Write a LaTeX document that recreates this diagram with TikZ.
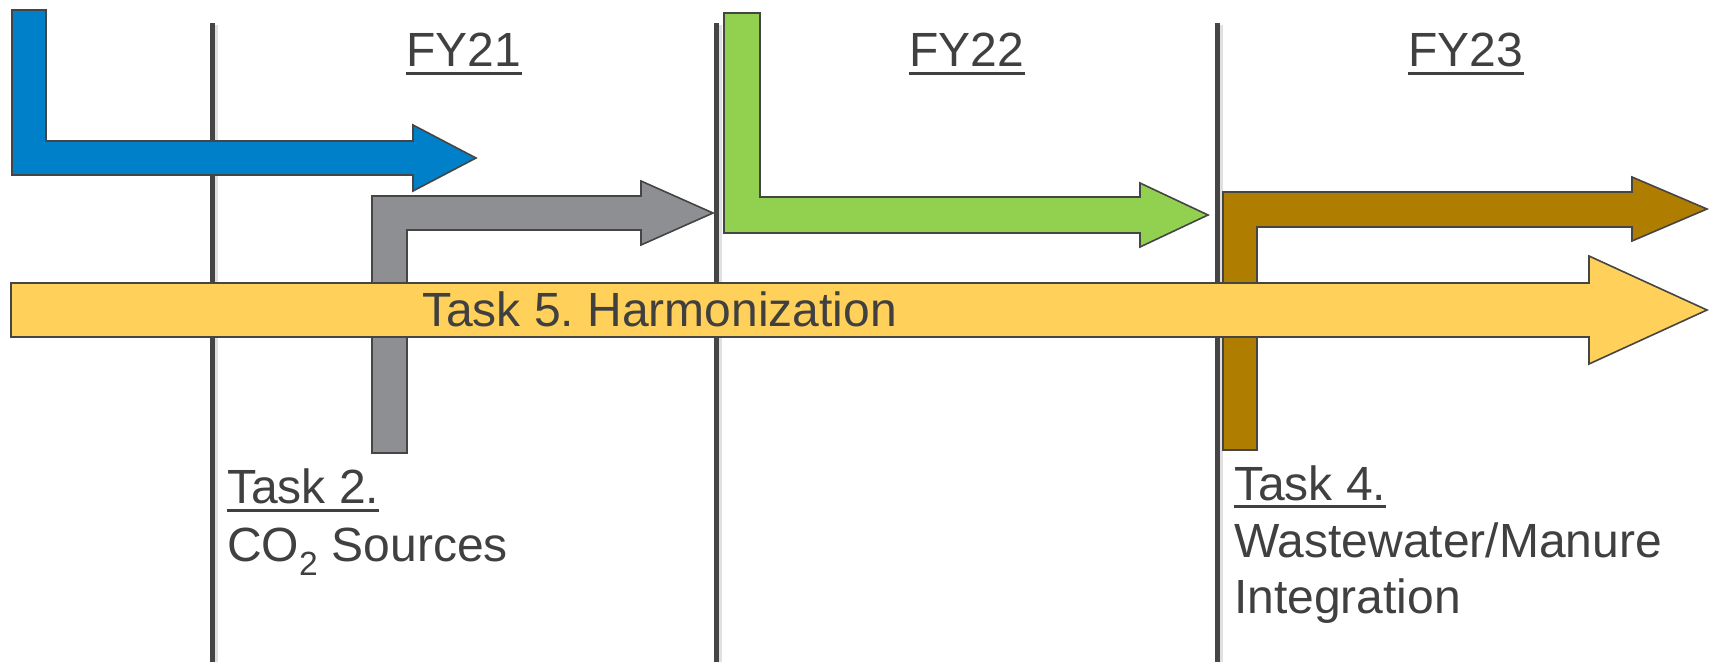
\documentclass[tikz,border=0pt]{standalone}
\usepackage{fontspec}
\setmainfont{Liberation Sans}
\frenchspacing
\definecolor{txt}{HTML}{404040}
\definecolor{edge}{HTML}{454545}
\definecolor{cblue}{HTML}{0080C8}
\definecolor{cgray}{HTML}{8E8F93}
\definecolor{cgreen}{HTML}{92D050}
\definecolor{cbrown}{HTML}{AF7D00}
\definecolor{cyellow}{HTML}{FFD05A}
\begin{document}
\begin{tikzpicture}[x=1pt,y=-1pt,
  divider/.style={draw=edge,line width=5pt},
  dshadow/.style={draw=black!12,line width=3pt},
  arrowshape/.style={draw=edge,line width=1.6pt,line join=miter},
  lbl/.style={text=txt,inner sep=0pt,font=\fontsize{48}{57}\selectfont},
  uline/.style={draw=txt,line width=3pt}]
\useasboundingbox (0,0) rectangle (1709,662);
% dividers
\foreach \x/\n in {212/d1,716/d2,1217/d3}{
  \draw[dshadow] (\x+4,25) -- (\x+4,662);
  \coordinate (\n t) at (\x,23);
  \coordinate (\n b) at (\x,662);
  \draw[divider] (\n t) -- (\n b);
}
% blue arrow
\draw[arrowshape,fill=cblue] (12,10) -- (46,10) -- (46,141) -- (413,141) -- (413,125) -- (476,158) -- (413,191) -- (413,175) -- (12,175) -- cycle;
% gray arrow
\draw[arrowshape,fill=cgray] (372,453) -- (372,196) -- (641,196) -- (641,181) -- (713,213) -- (641,245) -- (641,230) -- (407,230) -- (407,453) -- cycle;
% green arrow
\draw[arrowshape,fill=cgreen] (724,13) -- (760,13) -- (760,197) -- (1140,197) -- (1140,183) -- (1208,215) -- (1140,247) -- (1140,233) -- (724,233) -- cycle;
% brown arrow
\draw[arrowshape,fill=cbrown] (1223,450) -- (1223,192) -- (1632,192) -- (1632,177) -- (1707,209) -- (1632,241) -- (1632,227) -- (1257,227) -- (1257,450) -- cycle;
% yellow arrow
\draw[arrowshape,fill=cyellow] (11,283) -- (1589,283) -- (1589,256) -- (1707,310) -- (1589,364) -- (1589,337) -- (11,337) -- cycle;
% texts
\node[lbl,anchor=base west] (t5) at (422,326) {Task 5. Harmonization};
\foreach \x/\n/\t in {464/fy1/FY21,967/fy2/FY22,1466/fy3/FY23}{
  \node[lbl,anchor=base] (\n) at (\x,66) {\t};
  \draw[uline] ([yshift=-7pt]\n.base west) -- ([yshift=-7pt]\n.base east);
}
\node[lbl,anchor=base west] (t2) at (227,503) {Task 2.};
\draw[uline] ([yshift=-7pt]t2.base west) -- ([yshift=-7pt]t2.base east);
\node[lbl,anchor=base west] (t2b) at (227,561) {CO\textsubscript{2} Sources};
\node[lbl,anchor=base west] (t4) at (1234,500) {Task 4.};
\draw[uline] ([yshift=-6pt]t4.base west) -- ([yshift=-6pt]t4.base east);
\node[lbl,anchor=base west] (t4b) at (1234,557) {Wastewater/Manure};
\node[lbl,anchor=base west] (t4c) at (1234,613) {Integration};
\end{tikzpicture}
\end{document}
